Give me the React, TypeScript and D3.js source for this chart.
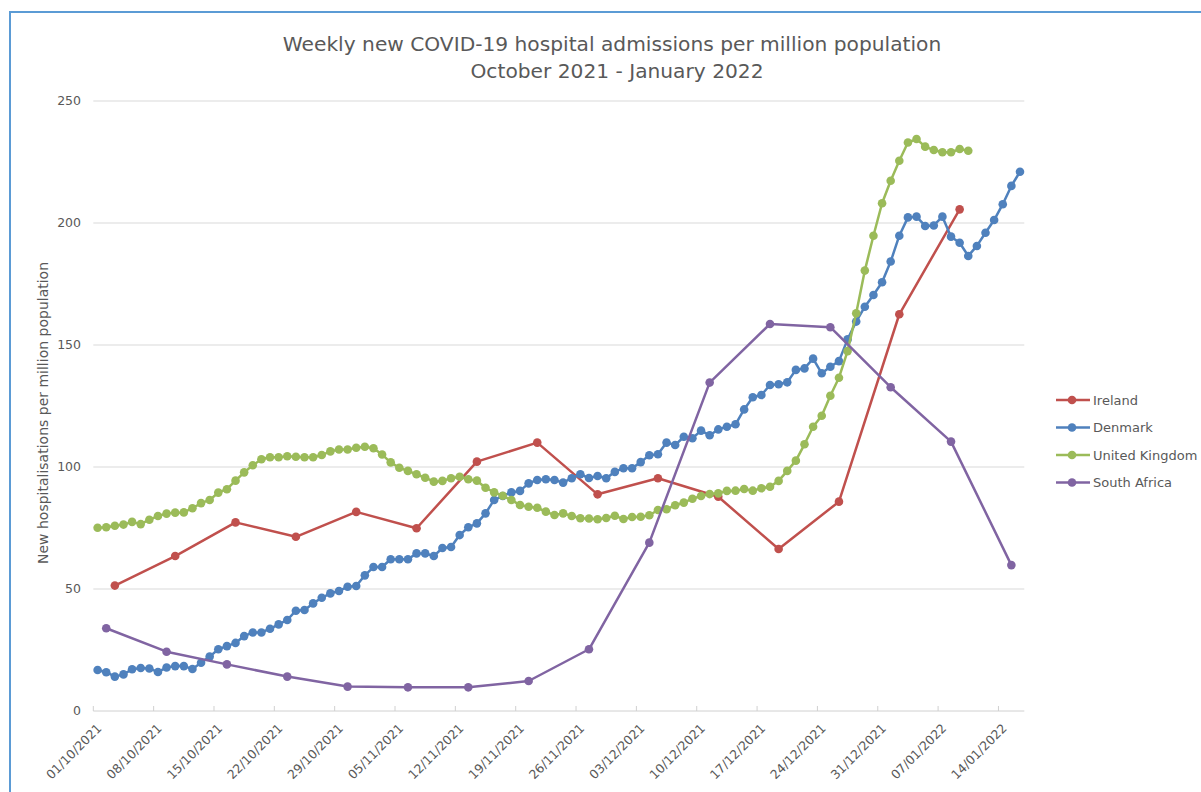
import React from "react";
import * as d3 from "d3";

// ---- Data (day offsets from 01/10/2021) ----
const startDate = Date.UTC(2021, 9, 1);
const endDays = 108; // axis runs to 17/01/2022

const denmarkValues = [
  16.8, 15.9, 14.1, 15.0, 17.1, 17.6, 17.4, 16.0, 17.8, 18.4, 18.4, 17.2, 19.8, 22.3, 25.3, 26.6, 27.9, 30.7,
  32.2, 32.2, 33.7, 35.5, 37.3, 41.1, 41.4, 44.1, 46.4, 48.2, 49.2, 50.9, 51.2, 55.6, 59.0, 59.0, 62.2, 62.2,
  62.2, 64.6, 64.6, 63.5, 66.8, 67.2, 72.1, 75.3, 76.9, 81.0, 86.5, 88.1, 89.6, 90.2, 93.3, 94.7, 95.0, 94.7,
  93.6, 95.4, 97.0, 95.5, 96.3, 95.4, 98.0, 99.5, 99.5, 102.0, 104.8, 105.2, 110.0, 109.0, 112.4, 111.8, 114.9,
  113.0, 115.4,
  116.5, 117.5, 123.6, 128.6, 129.5, 133.6, 133.9, 134.7, 139.8, 140.4, 144.4, 138.4, 141.1, 143.4, 152.3,
  159.6, 165.7, 170.5, 175.7, 184.2, 194.8, 202.3, 202.6, 198.8, 199.0, 202.6, 194.4, 191.9, 186.5, 190.6,
  196.0, 201.2, 207.7, 215.2, 221.0,
];

const ukValues = [
  75.1, 75.3, 75.9, 76.4, 77.5, 76.6, 78.4, 79.9, 80.9, 81.3, 81.4, 83.1, 85.2, 86.5, 89.5, 90.9, 94.4, 97.8,
  100.7, 103.2, 104.0, 104.0, 104.4, 104.2, 104.0, 104.0, 104.9, 106.4, 107.2, 107.2, 107.9, 108.3, 107.7,
  105.1, 101.9, 99.7,
  98.4, 97.0, 95.6, 94.0, 94.3, 95.4, 96.0, 95.0, 94.4, 91.5, 89.6, 88.2, 86.5, 84.4, 83.7, 83.3, 81.7, 80.3,
  81.0, 79.9, 79.0, 78.9, 78.6, 79.1, 80.0, 78.7, 79.5, 79.6, 80.2, 82.4, 82.7, 84.3, 85.4, 87.0, 88.1, 88.9,
  89.2,
  90.2, 90.3, 91.0, 90.3, 91.3, 91.9, 94.3, 98.4, 102.6, 109.3, 116.5, 121.0, 129.2, 136.6, 147.5, 163.0,
  180.5, 194.8, 208.1, 217.3, 225.5, 233.0, 234.4, 231.3, 229.9, 229.0, 229.0, 230.3, 229.6,
];

const irelandDays = [2, 9, 16, 23, 30, 37, 44, 51, 58, 65, 72, 79, 86, 93, 100];
const irelandValues = [51.4, 63.5, 77.3, 71.4, 81.6, 74.9, 102.2, 110.0, 88.8, 95.4, 87.8, 66.4, 85.8, 162.6, 205.6];

const southAfricaDays = [1, 8, 15, 22, 29, 36, 43, 50, 57, 64, 71, 78, 85, 92, 99, 106];
const southAfricaValues = [33.9, 24.3, 19.1, 14.1, 10.0, 9.7, 9.7, 12.3, 25.3, 69.0, 134.6, 158.6, 157.3, 132.7, 110.4, 59.8];

const tickLabels = [
  "01/10/2021", "08/10/2021", "15/10/2021", "22/10/2021", "29/10/2021", "05/11/2021", "12/11/2021",
  "19/11/2021", "26/11/2021", "03/12/2021", "10/12/2021", "17/12/2021", "24/12/2021", "31/12/2021",
  "07/01/2022", "14/01/2022",
];
const yTicks = [0, 50, 100, 150, 200, 250];

const seriesNames = ["Ireland", "Denmark", "United Kingdom", "South Africa"];
const seriesColors = ["#C0504D", "#4F81BD", "#9BBB59", "#8064A2"];

const DAY = 86400000;
const dayDate = (d: number) => new Date(startDate + d * DAY);

type Pt = { date: Date; value: number };
const series: Pt[][] = [
  irelandValues.map((v, i) => ({ date: dayDate(irelandDays[i] + 0.5), value: v })),
  denmarkValues.map((v, i) => ({ date: dayDate(i + 0.5), value: v })),
  ukValues.map((v, i) => ({ date: dayDate(i + 0.5), value: v })),
  southAfricaValues.map((v, i) => ({ date: dayDate(southAfricaDays[i] + 0.5), value: v })),
];
const FONT = "'DejaVu Sans', Verdana, sans-serif";
const TEXT = "#595959";

export default function App() {
  const left = 93.3;
  const right = 1024.3;
  const top = 101;
  const bottom = 711;
  const x = d3.scaleUtc().domain([dayDate(0), dayDate(endDays)]).range([left, right]);
  const y = d3.scaleLinear().domain([0, 250]).range([bottom, top]);
  const line = d3
    .line<Pt>()
    .x((d) => x(d.date))
    .y((d) => y(d.value));

  return (
    <svg
      width={1201}
      height={792}
      style={{ position: "absolute", left: 0, top: 0, background: "#fff", fontFamily: FONT }}
    >
      <rect x={0} y={0} width={1201} height={792} fill="#fff" />
      <rect x={10} y={12} width={1250} height={850} fill="#fff" stroke="#5B9BD5" strokeWidth={2} />

      {/* title */}
      <text x={612} y={51} textAnchor="middle" fontSize={20.2} fill={TEXT}>
        Weekly new COVID-19 hospital admissions per million population
      </text>
      <text x={617} y={78} textAnchor="middle" fontSize={20.2} fill={TEXT}>
        October 2021 - January 2022
      </text>

      {/* gridlines */}
      {yTicks.map((t) => (
        <g key={t}>
          <line x1={left} x2={right} y1={y(t)} y2={y(t)} stroke={t === 0 ? "#D0D0D0" : "#D9D9D9"} strokeWidth={1} />
          <text x={81} y={y(t)} dy="0.35em" textAnchor="end" fontSize={12.5} fill={TEXT}>
            {t}
          </text>
        </g>
      ))}

      {/* x ticks */}
      {tickLabels.map((lab, i) => {
        const tx = x(dayDate(i * 7));
        return (
          <g key={lab}>
            <line x1={tx} x2={tx} y1={bottom} y2={bottom - 5} stroke="#D0D0D0" />
            <text
              transform={`translate(${tx + 6},${bottom + 15}) rotate(-45)`}
              textAnchor="end"
              dy="0.35em"
              fontSize={12.5}
              fill={TEXT}
            >
              {lab}
            </text>
          </g>
        );
      })}

      {/* y axis title */}
      <text
        transform={`translate(48,413) rotate(-90)`}
        textAnchor="middle"
        fontSize={14}
        fill={TEXT}
      >
        New hospitalisations per million population
      </text>

      {/* series */}
      {series.map((pts, si) => (
        <g key={seriesNames[si]}>
          <path d={line(pts) || ""} fill="none" stroke={seriesColors[si]} strokeWidth={2.5} strokeLinejoin="round" />
          {pts.map((p, j) => (
            <circle key={j} cx={x(p.date)} cy={y(p.value)} r={4.3} fill={seriesColors[si]} />
          ))}
        </g>
      ))}

      {/* legend */}
      {seriesNames.map((name, i) => {
        const ly = 400 + i * 27.5;
        return (
          <g key={name}>
            <line x1={1056} x2={1090} y1={ly} y2={ly} stroke={seriesColors[i]} strokeWidth={2.5} />
            <circle cx={1072} cy={ly} r={4.3} fill={seriesColors[i]} />
            <text x={1093} y={ly} dy="0.35em" fontSize={13} fill={TEXT}>
              {name}
            </text>
          </g>
        );
      })}
    </svg>
  );
}
